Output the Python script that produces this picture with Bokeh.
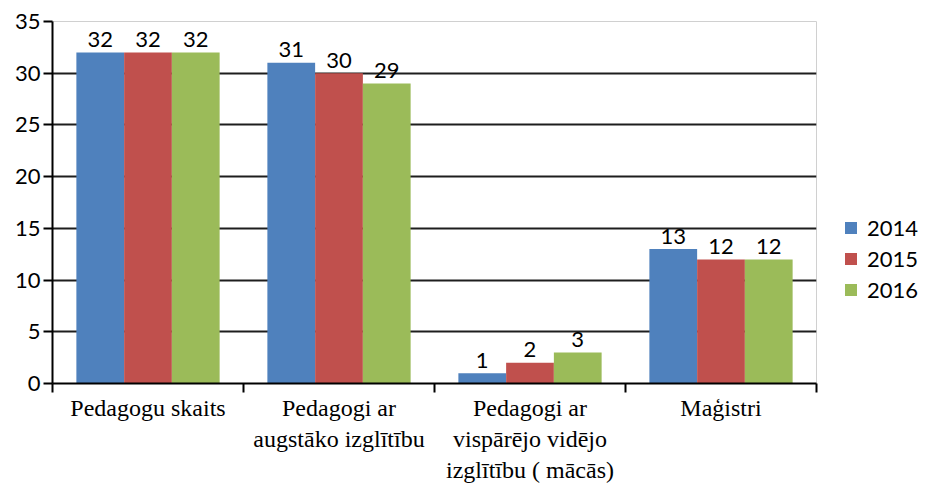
from bokeh.plotting import figure
from bokeh.models import ColumnDataSource, FixedTicker, Range1d, Legend, LegendItem
from bokeh.embed import file_html
from bokeh.resources import INLINE
from bokeh.core.properties import value
from bokeh.transform import dodge

categories = ["Pedagogu skaits", "Pedagogi ar\naugstāko izglītību",
              "Pedagogi ar\nvispārējo vidējo\nizglītību ( mācās)", "Maģistri"]
years = ["2014", "2015", "2016"]
v2014 = [32, 31, 1, 13]
v2015 = [32, 30, 2, 12]
v2016 = [32, 29, 3, 12]
colors = ["#4F81BD", "#C0504D", "#9BBB59"]
y_ticks = [0, 5, 10, 15, 20, 25, 30, 35]

centers = [i + 0.5 for i in range(len(categories))]
src = ColumnDataSource(dict(x=centers, y2014=v2014, y2015=v2015, y2016=v2016,
                            t2014=[str(v) for v in v2014],
                            t2015=[str(v) for v in v2015],
                            t2016=[str(v) for v in v2016]))

p = figure(frame_width=764, frame_height=362, output_backend="svg", toolbar_location=None,
           x_range=Range1d(0, len(categories)), y_range=Range1d(0, 35),
           min_border_left=52, min_border_top=21, min_border_bottom=95,
           min_border_right=90)

p.outline_line_color = "#d0d0d0"
p.outline_line_width = 1
p.xgrid.visible = False
p.ygrid.grid_line_color = "#1e1e1e"
p.ygrid.grid_line_width = 2
p.ygrid.ticker = FixedTicker(ticks=y_ticks)

sans = "Lato"
serif = "'Liberation Serif', 'Times New Roman', serif"

items = []
offsets = [-0.25, 0.0, 0.25]
for yr, off, col in zip(years, offsets, colors):
    r = p.vbar(x=dodge("x", off, range=p.x_range), top="y" + yr, width=0.25,
               bottom=0, source=src, fill_color=col, line_color=None)
    items.append(LegendItem(label=yr, renderers=[r]))
    p.text(x=dodge("x", off, range=p.x_range), y="y" + yr, text="t" + yr,
           source=src, text_align="center", text_baseline="alphabetic",
           y_offset=-13, text_font=value(sans), text_font_size="22px",
           text_color="#000000")

# y axis
ya = p.yaxis[0]
ya.ticker = FixedTicker(ticks=y_ticks)
ya.axis_line_color = "#000000"
ya.axis_line_width = 2
ya.major_tick_line_color = "#000000"
ya.major_tick_line_width = 2
ya.major_tick_out = 9
ya.major_tick_in = 0
ya.minor_tick_line_color = None
ya.major_label_standoff = 3
ya.major_label_text_font = sans
ya.major_label_text_font_size = "22px"
ya.major_label_text_color = "#000000"

# x axis
xa = p.xaxis[0]
xa.ticker = FixedTicker(ticks=centers, minor_ticks=list(range(len(categories) + 1)))
xa.major_label_overrides = {c: lab for c, lab in zip(centers, categories)}
xa.axis_line_color = "#000000"
xa.axis_line_width = 2
xa.major_tick_line_color = None
xa.major_tick_out = 0
xa.major_tick_in = 0
xa.minor_tick_line_color = "#000000"
xa.minor_tick_line_width = 2
xa.minor_tick_out = 9
xa.minor_tick_in = 0
xa.major_label_standoff = 2
xa.major_label_text_font = serif
xa.major_label_text_font_size = "24px"
xa.major_label_text_color = "#000000"

legend = Legend(items=items, location=(27, 80), orientation="vertical",
                glyph_width=15, glyph_height=15, label_standoff=9,
                label_text_font=sans, label_text_font_size="22px",
                label_text_color="#000000", spacing=4, padding=0, margin=0,
                border_line_color=None, background_fill_alpha=0)
p.add_layout(legend, "right")

open("out.html", "w").write(file_html(p, INLINE))
